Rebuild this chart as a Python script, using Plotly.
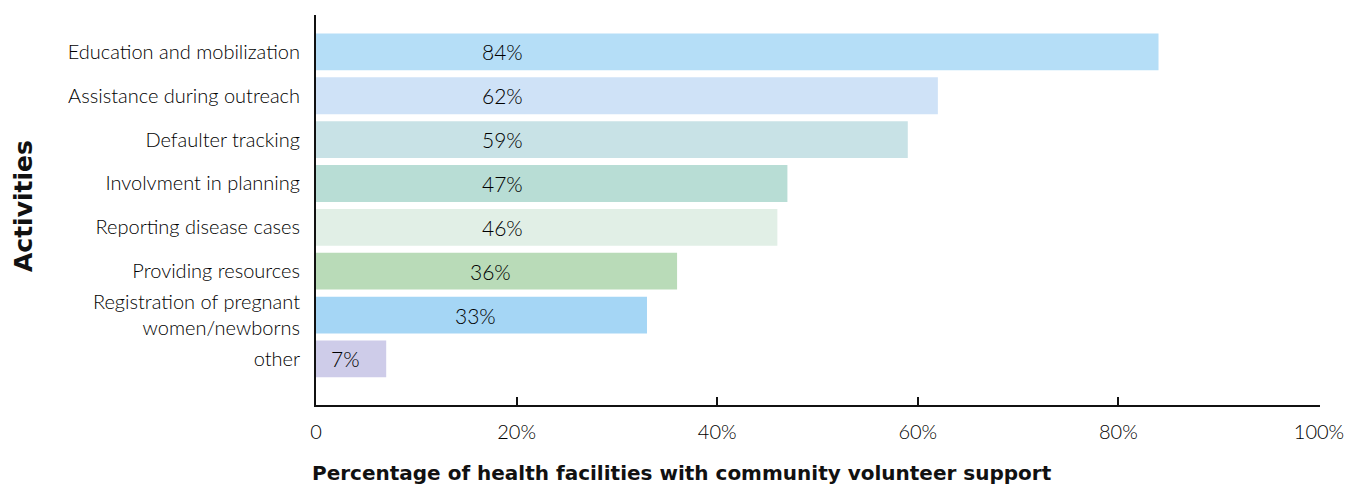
import plotly.graph_objects as go

categories = [
    "Education and mobilization",
    "Assistance during outreach",
    "Defaulter tracking",
    "Involvment in planning",
    "Reporting disease cases",
    "Providing resources",
    "Registration of pregnant<br>women/newborns",
    "other",
]
values = [84, 62, 59, 47, 46, 36, 33, 7]
bar_colors = ["#B5DEF7", "#CFE2F7", "#C8E2E6", "#B8DDD5", "#E1EFE6", "#B9DBB8", "#A5D6F5", "#CECCE9"]
tick_vals = [0, 20, 40, 60, 80, 100]
tick_text = ["0", "20%", "40%", "60%", "80%", "100%"]

LABEL_FONT = "Lato, 'Open Sans', sans-serif"
W, H = 1367, 494
ML, MR, MT, MB = 316, 47, 15, 89
plot_w = W - ML - MR
plot_h = H - MT - MB

fig = go.Figure(
    go.Bar(
        x=values,
        y=categories,
        orientation="h",
        marker=dict(color=bar_colors, line=dict(width=0)),
        width=0.84,
        hoverinfo="skip",
    )
)

for cat, v in zip(categories, values):
    fig.add_annotation(
        x=min(v, 37.2) / 2 - (0.6 if v < 37.2 else 0), y=cat, xref="x", yref="y",
        text=f"{v}%", showarrow=False,
        font=dict(family=LABEL_FONT, size=21, color="#000000", weight=300),
    )

fig.add_annotation(
    x=(682 - ML) / plot_w, y=(H - MB - 473) / plot_h, xref="paper", yref="paper",
    text="<b>Percentage of health facilities with community volunteer support</b>",
    showarrow=False, xanchor="center", yanchor="middle",
    font=dict(family="DejaVu Sans", size=20, color="#111111"),
)

fig.add_annotation(
    x=(23 - ML) / plot_w, y=(H - MB - 206) / plot_h, xref="paper", yref="paper",
    text="<b>Activities</b>", textangle=-90,
    showarrow=False, xanchor="center", yanchor="middle",
    font=dict(family="DejaVu Sans", size=25, color="#111111"),
)

fig.update_layout(
    width=W, height=H,
    margin=dict(l=ML, r=MR, t=MT, b=MB),
    plot_bgcolor="white", paper_bgcolor="white",
    showlegend=False,
    xaxis=dict(
        range=[0, 100.1], tickvals=tick_vals, ticktext=tick_text,
        showgrid=False, zeroline=False,
        showline=True, linecolor="#111111", linewidth=2,
        ticks="inside", ticklen=8, tickwidth=2, tickcolor="#111111",
        tickfont=dict(family=LABEL_FONT, size=20, color="#000000", weight=300),
        ticklabelstandoff=8,
    ),
    yaxis=dict(
        categoryorder="array", categoryarray=categories,
        range=[8.05, -0.84],
        showgrid=False, zeroline=False,
        showline=True, linecolor="#111111", linewidth=2,
        ticks="", ticklabelstandoff=10,
        tickfont=dict(family=LABEL_FONT, size=20, color="#000000", weight=300),
    ),
)

fig.write_html("out.html")
